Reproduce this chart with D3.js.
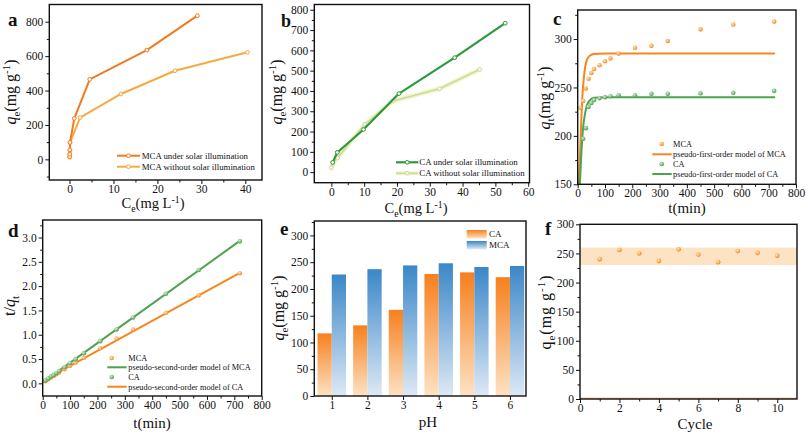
<!DOCTYPE html>
<html>
<head>
<meta charset="utf-8">
<script src="https://cdn.jsdelivr.net/npm/d3@7"></script>
<style>
body { margin: 0; background: #fff; }
svg { display: block; font-family: "Liberation Serif", "Times New Roman", serif; }
.tick text { font-size: 11.5px; fill: #111; }
.tick line { stroke: #111; stroke-width: 1; }
</style>
</head>
<body>
<script>
// a: isotherms of MCA
var isoMcaSolarCe = [0.02, 0.05, 0.08, 0.1, 1.1, 4.6, 17.6, 29.1];
var isoMcaSolarQe = [15, 30, 55, 98, 238, 465, 635, 835];
var isoMcaDarkCe = [0.02, 0.05, 0.1, 0.12, 2.4, 11.7, 24, 40.5];
var isoMcaDarkQe = [12, 28, 50, 97, 242, 380, 515, 622];
// b: isotherms of CA
var isoCaSolarCe = [0.4, 1.8, 9.8, 20.6, 37.6, 53];
var isoCaSolarQe = [48, 97, 210, 387, 564, 734];
var isoCaDarkCe = [0, 0.5, 1.9, 10.2, 18.8, 33, 45.2];
var isoCaDarkQe = [22, 45, 70, 236, 351, 411, 506];
// c: kinetics
var kinMcaT = [10, 20, 30, 40, 50, 60, 80, 100, 120, 150, 210, 270, 330, 450, 570, 720];
var kinMcaQt = [229, 236, 249, 259, 265, 269, 273, 277, 280, 285, 291, 293, 298, 310, 315, 318];
var kinCaT = [20, 30, 40, 50, 60, 80, 100, 120, 150, 210, 270, 330, 450, 570, 720];
var kinCaQt = [197, 208, 230, 234, 237, 239, 240, 241, 242, 242, 243.5, 243.5, 244, 244.5, 246.5];
var pfoMcaT = [4, 8, 12, 17, 24, 33, 45, 60, 100, 720];
var pfoMcaQt = [149, 175, 209, 240, 264, 278, 283, 284.6, 285, 285];
var pfoCaT = [8, 14, 20, 27, 33, 45, 60, 100, 720];
var pfoCaQt = [151, 185, 209, 223, 231, 237, 239.3, 240, 240];
// d: pseudo-second-order
var psoT = [10, 20, 30, 40, 50, 60, 80, 100, 120, 150, 210, 270, 330, 450, 570, 720];
var psoMca = [0.044, 0.085, 0.12, 0.154, 0.189, 0.223, 0.293, 0.361, 0.429, 0.526, 0.722, 0.922, 1.107, 1.452, 1.81, 2.264];
var psoCa = [0.059, 0.10, 0.144, 0.174, 0.214, 0.253, 0.335, 0.417, 0.498, 0.62, 0.868, 1.109, 1.355, 1.844, 2.331, 2.921];
var psoFitGreenT = [0, 720], psoFitGreen = [0.02, 2.93];
var psoFitOrangeT = [0, 720], psoFitOrange = [0.05, 2.27];
// e: pH
var phLevels = [1, 2, 3, 4, 5, 6];
var phCa = [117, 132, 161, 228, 231, 222];
var phMca = [227, 237, 244, 248, 241, 243];
// f: cycles
var cycles = [1, 2, 3, 4, 5, 6, 7, 8, 9, 10];
var cycleQe = [240, 256, 250, 237, 257, 248, 235, 254, 251, 246];
var cycleBand = [230, 260];

var serif = "Liberation Serif, Times New Roman, serif";
var svg = d3.select("body").append("svg").attr("width", 808).attr("height", 435);
var defs = svg.append("defs");
var clipCount = 0;

function sphere(id, c0, c1) {
    var rg = defs.append("radialGradient").attr("id", id)
        .attr("cx", "38%").attr("cy", "35%").attr("r", "65%");
    rg.append("stop").attr("offset", "0%").attr("stop-color", c0);
    rg.append("stop").attr("offset", "100%").attr("stop-color", c1);
}
function vgrad(id, c0, c1) {
    var lg = defs.append("linearGradient").attr("id", id)
        .attr("x1", 0).attr("y1", 0).attr("x2", 0).attr("y2", 1);
    lg.append("stop").attr("offset", "0%").attr("stop-color", c0);
    lg.append("stop").attr("offset", "100%").attr("stop-color", c1);
}
sphere("ballOrange", "#ffe2bd", "#f58a1e");
sphere("ballGreen", "#d3ecd0", "#4a9c4a");
vgrad("barOrange", "#f7801d", "#fde2c4");
vgrad("barBlue", "#3b87c8", "#dde9f5");

function panel(p) {
    var x = d3.scaleLinear().domain(p.xd).range([p.l, p.r]);
    var y = d3.scaleLinear().domain(p.yd).range([p.b, p.t]);
    var g = svg.append("g");
    var id = "clip" + (clipCount++);
    defs.append("clipPath").attr("id", id).append("rect")
        .attr("x", p.l).attr("y", p.t).attr("width", p.r - p.l).attr("height", p.b - p.t);
    var plot = g.append("g").attr("clip-path", "url(#" + id + ")");
    var ax = g.append("g");
    ax.append("g").attr("transform", "translate(0," + p.b + ")")
        .call(d3.axisBottom(x).tickValues(p.xt).tickSize(4).tickPadding(1).tickFormat(p.xf || d3.format("d")));
    ax.append("g").attr("transform", "translate(0," + p.b + ")")
        .call(d3.axisBottom(x).tickValues(p.xm || []).tickSize(2.5).tickFormat(""));
    ax.append("g").attr("transform", "translate(" + p.l + ",0)")
        .call(d3.axisLeft(y).tickValues(p.yt).tickSize(4).tickPadding(2).tickFormat(p.yf || d3.format("d")));
    ax.append("g").attr("transform", "translate(" + p.l + ",0)")
        .call(d3.axisLeft(y).tickValues(p.ym || []).tickSize(2.5).tickFormat(""));
    ax.selectAll(".domain").remove();
    ax.selectAll("g").attr("font-family", serif).attr("font-size", 11.5);
    g.append("rect").attr("x", p.l).attr("y", p.t)
        .attr("width", p.r - p.l).attr("height", p.b - p.t)
        .attr("fill", "none").attr("stroke", "#111").attr("stroke-width", 1.4);
    return { g: g, plot: plot, x: x, y: y };
}

function title(x, y, parts, size, rotate, anchor, spacing) {
    var t = svg.append("text")
        .attr("transform", "translate(" + x + "," + y + ")" + (rotate ? " rotate(-90)" : ""))
        .attr("text-anchor", anchor || "middle").attr("fill", "#111")
        .style("font-size", size + "px");
    if (spacing) t.style("letter-spacing", spacing + "px");
    var cur = 0;
    parts.forEach(function(q) {
        var target = q.sub ? 0.28 * size : (q.sup ? -0.38 * size : 0);
        var s = t.append("tspan").text(q.t).attr("dy", target - cur);
        cur = target;
        if (q.sub || q.sup) s.style("font-size", (size * 0.68) + "px");
        if (q.i) s.style("font-style", "italic");
        if (q.b) s.style("font-weight", "bold");
    });
    return t;
}
function qeTitle(sym, sub, italic) {
    return [{ t: sym, i: italic }, { t: sub, sub: true }, { t: "(mg g" }, { t: "-1", sup: true }, { t: ")" }];
}
function zip(a, b) { return a.map(function(v, i) { return [v, b[i]]; }); }

function seriesLine(P, xs, ys, color, width, curve) {
    var line = d3.line().x(function(d) { return P.x(d[0]); }).y(function(d) { return P.y(d[1]); });
    if (curve) line.curve(curve);
    return P.plot.append("path").datum(zip(xs, ys)).attr("d", line)
        .attr("fill", "none").attr("stroke", color).attr("stroke-width", width)
        .attr("stroke-linejoin", "round").attr("stroke-linecap", "round");
}
function openMarks(P, xs, ys, color) {
    P.plot.selectAll(null).data(zip(xs, ys)).enter().append("circle")
        .attr("cx", function(d) { return P.x(d[0]); }).attr("cy", function(d) { return P.y(d[1]); })
        .attr("r", 1.9).attr("fill", "#fff6ea").attr("stroke", color).attr("stroke-width", 1);
}
function balls(P, xs, ys, fill, r) {
    P.plot.selectAll(null).data(zip(xs, ys)).enter().append("circle")
        .attr("cx", function(d) { return P.x(d[0]); }).attr("cy", function(d) { return P.y(d[1]); })
        .attr("r", r).attr("fill", "url(#" + fill + ")");
}
function legendText(x, y, s, size) {
    svg.append("text").attr("x", x).attr("y", y).attr("fill", "#111")
        .style("font-size", size + "px").text(s);
}
function legendLine(x1, x2, y, color, w, marker) {
    svg.append("line").attr("x1", x1).attr("x2", x2).attr("y1", y).attr("y2", y)
        .attr("stroke", color).attr("stroke-width", w);
    if (marker) svg.append("circle").attr("cx", (x1 + x2) / 2).attr("cy", y).attr("r", 1.9)
        .attr("fill", "#fff6ea").attr("stroke", color).attr("stroke-width", 1);
}

var cOrangeDark = "#f27a21", cOrangeLight = "#f5aa42", cGreen = "#2b9a3e", cPale = "#c9dc9c";

// ---- a
var A = panel({ l: 49.3, r: 262, t: 4.5, b: 180, xd: [-4.6, 43.8], yd: [-120, 900],
    xt: [0, 10, 20, 30, 40], xm: [5, 15, 25, 35], yt: [0, 200, 400, 600, 800], ym: [-100, 100, 300, 500, 700] });
seriesLine(A, isoMcaDarkCe, isoMcaDarkQe, cOrangeLight, 2);
openMarks(A, isoMcaDarkCe, isoMcaDarkQe, cOrangeLight);
seriesLine(A, isoMcaSolarCe, isoMcaSolarQe, cOrangeDark, 2);
openMarks(A, isoMcaSolarCe, isoMcaSolarQe, cOrangeDark);
legendLine(117, 140, 155.7, cOrangeDark, 2, true);
legendText(141.7, 158.8, "MCA under solar illumination", 8.8);
legendLine(117, 140, 166.7, cOrangeLight, 2, true);
legendText(141.7, 169.8, "MCA without solar illumination", 8.8);
title(153, 208, [{ t: "C" }, { t: "e", sub: true }, { t: "(mg L" }, { t: "-1", sup: true }, { t: ")" }], 14.5);
title(16, 92, qeTitle("q", "e", true), 16, true);
title(8, 26, [{ t: "a", b: true }], 19, false, "start");

// ---- b
var B = panel({ l: 314.3, r: 529.5, t: 4.5, b: 182.7, xd: [-5.2, 60.4], yd: [-52, 826],
    xt: [0, 10, 20, 30, 40, 50, 60], xm: [5, 15, 25, 35, 45, 55], yt: [0, 100, 200, 300, 400, 500, 600, 700, 800],
    ym: [50, 150, 250, 350, 450, 550, 650, 750] });
seriesLine(B, isoCaDarkCe, isoCaDarkQe, "#f4f4c6", 4.5);
seriesLine(B, isoCaDarkCe, isoCaDarkQe, cPale, 1.6);
openMarks(B, isoCaDarkCe, isoCaDarkQe, cPale);
seriesLine(B, isoCaSolarCe, isoCaSolarQe, cGreen, 2.2);
openMarks(B, isoCaSolarCe, isoCaSolarQe, cGreen);
legendLine(396, 418.3, 162.3, cGreen, 2.2, true);
legendText(419.3, 165.4, "CA under solar illumination", 8.8);
legendLine(396, 418.3, 173.3, "#f4f4c6", 4, false);
legendLine(396, 418.3, 173.3, cPale, 1.6, true);
legendText(419.3, 176.4, "CA without solar illumination", 8.8);
title(416, 213, [{ t: "C" }, { t: "e", sub: true }, { t: "(mg L" }, { t: "-1", sup: true }, { t: ")" }], 14.5);
title(282, 92, qeTitle("q", "e", true), 16, true);
title(281, 27, [{ t: "b", b: true }], 18, false, "start");

// ---- c
var C = panel({ l: 577.7, r: 796, t: 10, b: 184.3, xd: [0, 800], yd: [150, 330],
    xt: [0, 100, 200, 300, 400, 500, 600, 700, 800], xm: [50, 150, 250, 350, 450, 550, 650, 750],
    yt: [150, 200, 250, 300], ym: [175, 225, 275, 325] });
seriesLine(C, pfoMcaT, pfoMcaQt, "#f7861f", 2, d3.curveMonotoneX);
seriesLine(C, pfoCaT, pfoCaQt, "#4fa34f", 2, d3.curveMonotoneX);
balls(C, kinMcaT, kinMcaQt, "ballOrange", 2.3);
balls(C, kinCaT, kinCaQt, "ballGreen", 2.3);
svg.append("circle").attr("cx", 661.7).attr("cy", 144).attr("r", 2.3).attr("fill", "url(#ballOrange)");
legendText(673, 147, "MCA", 8.3);
legendLine(652.3, 671.7, 154.3, "#f7861f", 2);
legendText(673, 157.3, "pseudo-first-order model of MCA", 8.3);
svg.append("circle").attr("cx", 661.7).attr("cy", 164).attr("r", 2.3).attr("fill", "url(#ballGreen)");
legendText(673, 167, "CA", 8.3);
legendLine(652.3, 671.7, 174, "#4fa34f", 2);
legendText(673, 177, "pseudo-first-order model of CA", 8.3);
title(687, 213, [{ t: "t(min)" }], 15);
title(550, 98, qeTitle("q", "t", true), 16, true);
title(553, 25, [{ t: "c", b: true }], 19, false, "start");

// ---- d
var D = panel({ l: 42.7, r: 261.7, t: 220, b: 396, xd: [0, 800], yd: [-0.26, 3.36],
    xt: [0, 100, 200, 300, 400, 500, 600, 700, 800], xm: [50, 150, 250, 350, 450, 550, 650, 750],
    yt: [0, 0.5, 1, 1.5, 2, 2.5, 3], ym: [0.25, 0.75, 1.25, 1.75, 2.25, 2.75, 3.25], yf: d3.format(".1f") });
seriesLine(D, psoFitGreenT, psoFitGreen, "#4fa34f", 2);
seriesLine(D, psoFitOrangeT, psoFitOrange, "#f7861f", 2);
balls(D, psoT, psoMca, "ballOrange", 2.3);
balls(D, psoT, psoCa, "ballGreen", 2.3);
svg.append("circle").attr("cx", 111.7).attr("cy", 358).attr("r", 2.3).attr("fill", "url(#ballOrange)");
legendText(128.3, 361, "MCA", 8.3);
legendLine(107.3, 126.7, 367.3, "#4fa34f", 2);
legendText(128.3, 370.3, "pseudo-second-order model of MCA", 8.3);
svg.append("circle").attr("cx", 111.7).attr("cy", 377).attr("r", 2.3).attr("fill", "url(#ballGreen)");
legendText(128.3, 380, "CA", 8.3);
legendLine(107.3, 126.7, 386.7, "#f7861f", 2);
legendText(128.3, 389.7, "pseudo-second-order model of CA", 8.3);
title(152, 428, [{ t: "t(min)" }], 15);
title(15, 306, [{ t: "t/" }, { t: "q", i: true }, { t: "t", sub: true }], 16, true);
title(8, 237, [{ t: "d", b: true }], 19, false, "start");

// ---- e
var E = panel({ l: 314.3, r: 526, t: 221, b: 396, xd: [0.51, 6.45], yd: [0, 327],
    xt: phLevels, yt: [0, 50, 100, 150, 200, 250, 300], ym: [25, 75, 125, 175, 225, 275, 325] });
var barW = 0.4;
E.plot.selectAll(".ca").data(zip(phLevels, phCa)).enter().append("rect")
    .attr("x", function(d) { return E.x(d[0] - barW); })
    .attr("width", function(d) { return E.x(d[0]) - E.x(d[0] - barW); })
    .attr("y", function(d) { return E.y(d[1]); })
    .attr("height", function(d) { return E.y(0) - E.y(d[1]); })
    .attr("fill", "url(#barOrange)");
E.plot.selectAll(".mca").data(zip(phLevels, phMca)).enter().append("rect")
    .attr("x", function(d) { return E.x(d[0]); })
    .attr("width", function(d) { return E.x(d[0] + barW) - E.x(d[0]); })
    .attr("y", function(d) { return E.y(d[1]); })
    .attr("height", function(d) { return E.y(0) - E.y(d[1]); })
    .attr("fill", "url(#barBlue)");
svg.append("rect").attr("x", 466.7).attr("y", 230).attr("width", 20).attr("height", 8.3).attr("fill", "url(#barOrange)");
legendText(489, 237.3, "CA", 9);
svg.append("rect").attr("x", 466.7).attr("y", 241).attr("width", 20).attr("height", 8.3).attr("fill", "url(#barBlue)");
legendText(489, 248.3, "MCA", 9);
title(428, 427, [{ t: "pH" }], 15);
title(284, 308, qeTitle("q", "e", true), 16, true);
title(280, 235, [{ t: "e", b: true }], 19, false, "start");

// ---- f
var F = panel({ l: 580, r: 797, t: 224.3, b: 399, xd: [0, 11], yd: [0, 300],
    xt: [0, 2, 4, 6, 8, 10], xm: [1, 3, 5, 7, 9], yt: [0, 50, 100, 150, 200, 250, 300], ym: [25, 75, 125, 175, 225, 275] });
F.plot.append("rect").attr("x", F.x(0)).attr("width", F.x(11) - F.x(0))
    .attr("y", F.y(cycleBand[1])).attr("height", F.y(cycleBand[0]) - F.y(cycleBand[1]))
    .attr("fill", "#fde3c3");
F.plot.append("line").attr("x1", F.x(0)).attr("x2", F.x(11)).attr("y1", F.y(0) - 0.8).attr("y2", F.y(0) - 0.8)
    .attr("stroke", "#f6a55a").attr("stroke-width", 1);
balls(F, cycles, cycleQe, "ballOrange", 2.4);
title(695, 429, [{ t: "Cycle" }], 15);
title(551, 312, qeTitle("q", "e", false), 16, true, "middle", 1);
title(545, 235, [{ t: "f", b: true }], 19, false, "start");
</script>
</body>
</html>
